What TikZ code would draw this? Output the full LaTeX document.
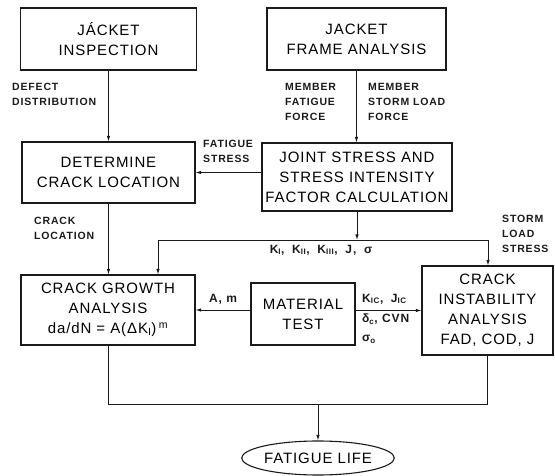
\documentclass[tikz,border=0pt]{standalone}
\usepackage{fontspec}
\setmainfont{Liberation Sans}
\newfontfamily\boxfont{Liberation Sans}[LetterSpace=6]
\newfontfamily\labfont{Liberation Sans}[LetterSpace=8]
\usetikzlibrary{arrows.meta,positioning,shapes.geometric,calc}
\definecolor{ink}{HTML}{1A1A1A}
\tikzset{
  procbox/.style={draw=ink,line width=1.1pt,align=center,
                  font=\boxfont\fontsize{15}{20}\selectfont,inner sep=0pt},
  lab/.style={align=left,anchor=north west,inner sep=0pt,text=ink,
              font=\labfont\bfseries\fontsize{10.5}{15}\selectfont},
  symlab/.style={lab,font=\labfont\bfseries\fontsize{12}{15}\selectfont},
  flowarr/.style={-{Latex[length=5.5pt,width=3.5pt]},line width=0.9pt,draw=ink},
  flowline/.style={line width=0.9pt,draw=ink}
}

\begin{document}
\begin{tikzpicture}[x=1pt,y=-1pt]
  \useasboundingbox (0,0) rectangle (555,476);
  % top row
  \node[procbox,minimum width=176pt,minimum height=62pt] (insp) at (108.5,39)
    {JÁCKET\\INSPECTION};
  \node[procbox,minimum width=179pt,minimum height=62pt] (frame) at (356.5,39)
    {JACKET\\FRAME ANALYSIS};
  % middle row
  \node[procbox,minimum width=173pt,minimum height=61pt] (det) at (108.5,172.5)
    {DETERMINE\\CRACK LOCATION};
  \node[procbox,minimum width=190pt,minimum height=68pt] (joint) at (357,177)
    {JOINT STRESS AND\\STRESS INTENSITY\\FACTOR CALCULATION};
  % lower row
  \node[procbox,minimum width=174pt,minimum height=70pt] (grow) at (108,310)
    {CRACK GROWTH\\ANALYSIS\\da/dN = A(ΔK\textsubscript{I})\,\textsuperscript{m}};
  \node[procbox,minimum width=104pt,minimum height=62pt] (mat) at (303,314)
    {MATERIAL\\TEST};
  \node[procbox,minimum width=131pt,minimum height=89pt] (inst) at (487.5,310.5)
    {CRACK\\INSTABILITY\\ANALYSIS\\FAD, COD, J};
  \node[procbox,ellipse,minimum width=132pt,minimum height=34pt] (life) at (318,458)
    {FATIGUE LIFE};

  % connectors
  \draw[flowarr] (insp.south) -- (det.north);
  \draw[flowarr] (frame.south) -- (frame.south |- joint.north);
  \draw[flowarr] (joint.west |- det.east) -- (det.east);
  \draw[flowarr] (det.south) -- (det.south |- grow.north);
  \coordinate (busL) at (158,240);
  \coordinate (busR) at (488,240);
  \draw[flowarr] (joint.south) -- (joint.south |- busL);
  \draw[flowarr] (busR) -- (busL) -- (busL |- grow.north);
  \draw[flowarr] (busR) -- (busR |- inst.north);
  \draw[flowarr] (mat.west |- grow.east) -- (grow.east);
  \draw[flowarr] (mat.east |- inst.west) -- (inst.west);
  \coordinate (join) at (318,404);
  \draw[flowline] (grow.south) -- (grow.south |- join) -- (inst.south |- join) -- (inst.south);
  \draw[flowarr] (join) -- (life.north);

  % labels
  \node[lab] (defect) at (12,83) {DEFECT\\DISTRIBUTION};
  \node[lab] (mfat) at (285,83) {MEMBER\\FATIGUE\\FORCE};
  \node[lab] (mstorm) at (368,83) {MEMBER\\STORM LOAD\\FORCE};
  \node[lab] (fstress) at (203,140) {FATIGUE\\STRESS};
  \node[lab] (cloc) at (34,217) {CRACK\\LOCATION};
  \node[lab] (sstress) at (502,215) {STORM\\LOAD\\STRESS};
  \node[symlab,anchor=center] (kfac) at (321,250)
    {K\textsubscript{I},\; K\textsubscript{II},\; K\textsubscript{III},\; J,\; σ};
  \node[symlab,anchor=center] (am) at (223,299) {A, m};
  \node[symlab,anchor=west] (kic) at (362,299) {K\textsubscript{IC},\; J\textsubscript{IC}};
  \node[symlab,anchor=west] (dc) at (362,319) {δ\textsubscript{c}, CVN};
  \node[symlab,anchor=west] (so) at (362,339) {σ\textsubscript{o}};
\end{tikzpicture}
\end{document}
